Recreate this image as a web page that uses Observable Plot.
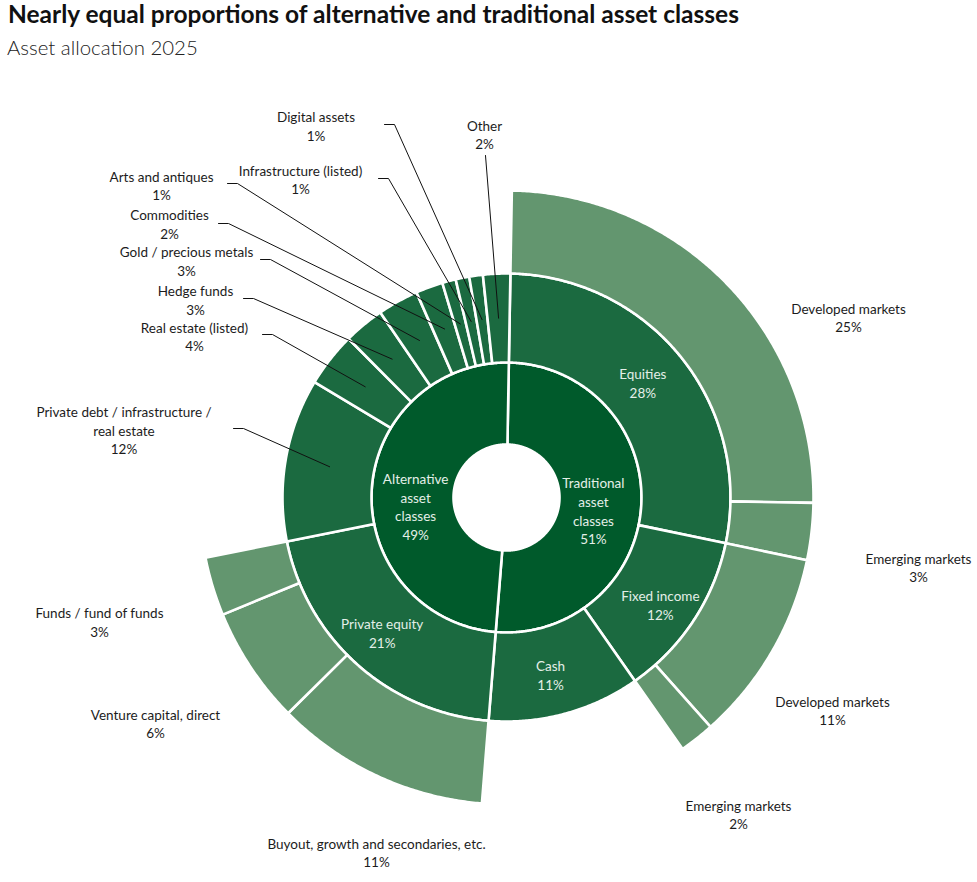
<!DOCTYPE html>
<html>
<head>
<meta charset="utf-8">
<script src="https://cdn.jsdelivr.net/npm/d3@7"></script>
<script src="https://cdn.jsdelivr.net/npm/@observablehq/plot@0.6"></script>
<style>
  body { margin: 0; background: #fff; font-family: Lato, "Open Sans", sans-serif; }
  #title { position: absolute; left: 8px; top: 2px; font-weight: 700; font-size: 24.5px; line-height: 24px; color: #111; white-space: nowrap; }
  #subtitle { position: absolute; left: 7px; top: 37px; font-weight: 300; font-size: 20.4px; line-height: 20px; color: #222; white-space: nowrap; }
  #chart { position: absolute; left: 0; top: 70px; }
</style>
</head>
<body>
<div id="title">Nearly equal proportions of alternative and traditional asset classes</div>
<div id="subtitle">Asset allocation 2025</div>
<div id="chart"></div>
<script>
// Inner ring: the two broad asset classes (%)
const classNames = ["Traditional\nasset\nclasses", "Alternative\nasset\nclasses"];
const classShares = [51, 49];

// Middle ring: sub-classes (%) and the index of their parent class
const subNames = [
  "Equities", "Fixed income", "Cash",
  "Private equity", "Private debt / infrastructure /\nreal estate", "Real estate (listed)",
  "Hedge funds", "Gold / precious metals", "Commodities", "Arts and antiques",
  "Infrastructure (listed)", "Digital assets", "Other"
];
const subParents = [0, 0, 0, 1, 1, 1, 1, 1, 1, 1, 1, 1, 1];
const subShares = [28, 12, 11, 21, 12, 4, 3, 3, 2, 1, 1, 1, 2];

// Outer ring: regional / strategy breakdown (%) and the index of their parent sub-class
const leafNames = [
  "Developed markets", "Emerging markets",
  "Developed markets", "Emerging markets",
  "Buyout, growth and secondaries, etc.", "Venture capital, direct", "Funds / fund of funds"
];
const leafParents = [0, 0, 1, 1, 3, 3, 3];
const leafShares = [25, 3, 11, 2, 11, 6, 3];

// ---- layout ----
const W = 977, H = 812;            // svg size
const CX = 506, CY = 427;          // centre of the sunburst inside the svg
const startAngle = 1;              // degrees clockwise from 12 o'clock
const radii = [53, 135, 224, 307]; // ring boundaries
const ringColors = ["#005a2b", "#1b6a40", "#63966f"];
const lightText = "#e4efe8", darkText = "#1c1c1c";

// Outside label anchors (svg pixels) and leader-line starts for the middle ring
const outsideSub = {
  5:  {x: 194, y: 265.5, lead: [262, 264]},
  4:  {x: 123.5, y: 359, lead: [233, 358]},
  6:  {x: 195, y: 229, lead: [243, 228]},
  7:  {x: 186, y: 190, lead: [260, 189]},
  8:  {x: 169, y: 153, lead: [218, 153]},
  9:  {x: 161, y: 114.5, lead: [227, 113]},
  10: {x: 300, y: 108.5, lead: [378, 108]},
  11: {x: 315.5, y: 55, lead: [384, 54]},
  12: {x: 484, y: 63.5, lead: [485, 85], noElbow: true}
};
const outsideLeaf = [
  {x: 848, y: 246.5}, {x: 918, y: 496.5},
  {x: 832, y: 639.5}, {x: 738, y: 743.5},
  {x: 376, y: 781.5}, {x: 155, y: 652.5}, {x: 99, y: 551}
];
// labels kept inside their segment, with small nudges from the centroid (px)
const insideClassNudge = [[-7, 8], [3, 13]];
const insideSub = {0: [-4, -3], 1: [4, 8], 2: [-3, 4], 3: [-5, 1]};

// convert svg pixels to chart units (centre at 0,0, y upwards)
const ux = (px) => px - CX;
const uy = (py) => CY - py;

// angular layout: children share their parent's span in proportion to their values
function ring(names, shares, depth, parents, parentArcs) {
  const arcs = new Array(shares.length);
  if (!parents) {
    const total = d3.sum(shares);
    let acc = 0;
    shares.forEach((v, i) => {
      arcs[i] = {i, depth, name: names[i], value: v,
        a0: startAngle + acc / total * 360, a1: startAngle + (acc + v) / total * 360};
      acc += v;
    });
  } else {
    parentArcs.forEach((p, pi) => {
      const kids = d3.range(shares.length).filter(i => parents[i] === pi);
      const total = d3.sum(kids, i => shares[i]);
      let acc = 0;
      kids.forEach(i => {
        const v = shares[i];
        arcs[i] = {i, depth, name: names[i], value: v,
          a0: p.a0 + (p.a1 - p.a0) * acc / total,
          a1: p.a0 + (p.a1 - p.a0) * (acc + v) / total};
        acc += v;
      });
    });
  }
  return arcs;
}

const classArcs = ring(classNames, classShares, 0);
const subArcs = ring(subNames, subShares, 1, subParents, classArcs);
const leafArcs = ring(leafNames, leafShares, 2, leafParents, subArcs);
const allArcs = [...classArcs, ...subArcs, ...leafArcs];

const rad = (deg) => deg * Math.PI / 180;
const polar = (r, deg) => ({x: r * Math.sin(rad(deg)), y: r * Math.cos(rad(deg))});

// polygon outline of each ring segment
const segPoints = [];
allArcs.forEach((a, k) => {
  const r0 = radii[a.depth], r1 = radii[a.depth + 1];
  const n = Math.max(2, Math.ceil((a.a1 - a.a0) / 0.4));
  for (let s = 0; s <= n; s++) segPoints.push({id: k, ring: a.depth, ...polar(r1, a.a0 + (a.a1 - a.a0) * s / n)});
  for (let s = n; s >= 0; s--) segPoints.push({id: k, ring: a.depth, ...polar(r0, a.a0 + (a.a1 - a.a0) * s / n)});
});

const centroid = (a) => polar((radii[a.depth] + radii[a.depth + 1]) / 2, (a.a0 + a.a1) / 2);
const label = (a) => `${a.name}\n${a.value}%`;
const nudged = (a, [nx, ny]) => { const c = centroid(a); return {x: c.x + nx, y: c.y - ny}; };

// labels drawn inside their segment
const insideLabels = [
  ...classArcs.map((a, i) => ({...nudged(a, insideClassNudge[i]), text: label(a)})),
  ...Object.entries(insideSub).map(([i, n]) => ({...nudged(subArcs[+i], n), text: label(subArcs[+i])}))
];

// labels drawn outside the rings
const outsideLabels = [
  ...Object.entries(outsideSub).map(([i, o]) => ({x: ux(o.x), y: uy(o.y), text: label(subArcs[+i])})),
  ...leafArcs.map((a, i) => ({x: ux(outsideLeaf[i].x), y: uy(outsideLeaf[i].y), text: label(a)}))
];

// leader lines: short horizontal tick, then straight to the segment's centroid
const leaders = [];
Object.entries(outsideSub).forEach(([i, o]) => {
  const end = centroid(subArcs[+i]);
  leaders.push({id: i, x: ux(o.lead[0]), y: uy(o.lead[1])});
  if (!o.noElbow) leaders.push({id: i, x: ux(o.lead[0] + 10), y: uy(o.lead[1])});
  leaders.push({id: i, x: end.x, y: end.y});
});

const chart = Plot.plot({
  width: W,
  height: H,
  margin: 0,
  x: {domain: [ux(0), ux(W)], range: [0, W], axis: null},
  y: {domain: [uy(H), uy(0)], range: [H, 0], axis: null},
  color: {type: "ordinal", domain: [0, 1, 2], range: ringColors},
  style: {fontFamily: "Lato, 'Open Sans', sans-serif", background: "white"},
  marks: [
    Plot.line(segPoints, {x: "x", y: "y", z: "id", fill: "ring", stroke: "white", strokeWidth: 2.6, curve: "linear-closed"}),
    Plot.line(leaders, {x: "x", y: "y", z: "id", stroke: "#111", strokeWidth: 1}),
    Plot.text(insideLabels, {x: "x", y: "y", text: "text", fill: lightText, fontSize: 13.5, lineHeight: 1.4}),
    Plot.text(outsideLabels, {x: "x", y: "y", text: "text", fill: darkText, fontSize: 13.5, lineHeight: 1.4})
  ]
});
document.getElementById("chart").appendChild(chart);
</script>
</body>
</html>
